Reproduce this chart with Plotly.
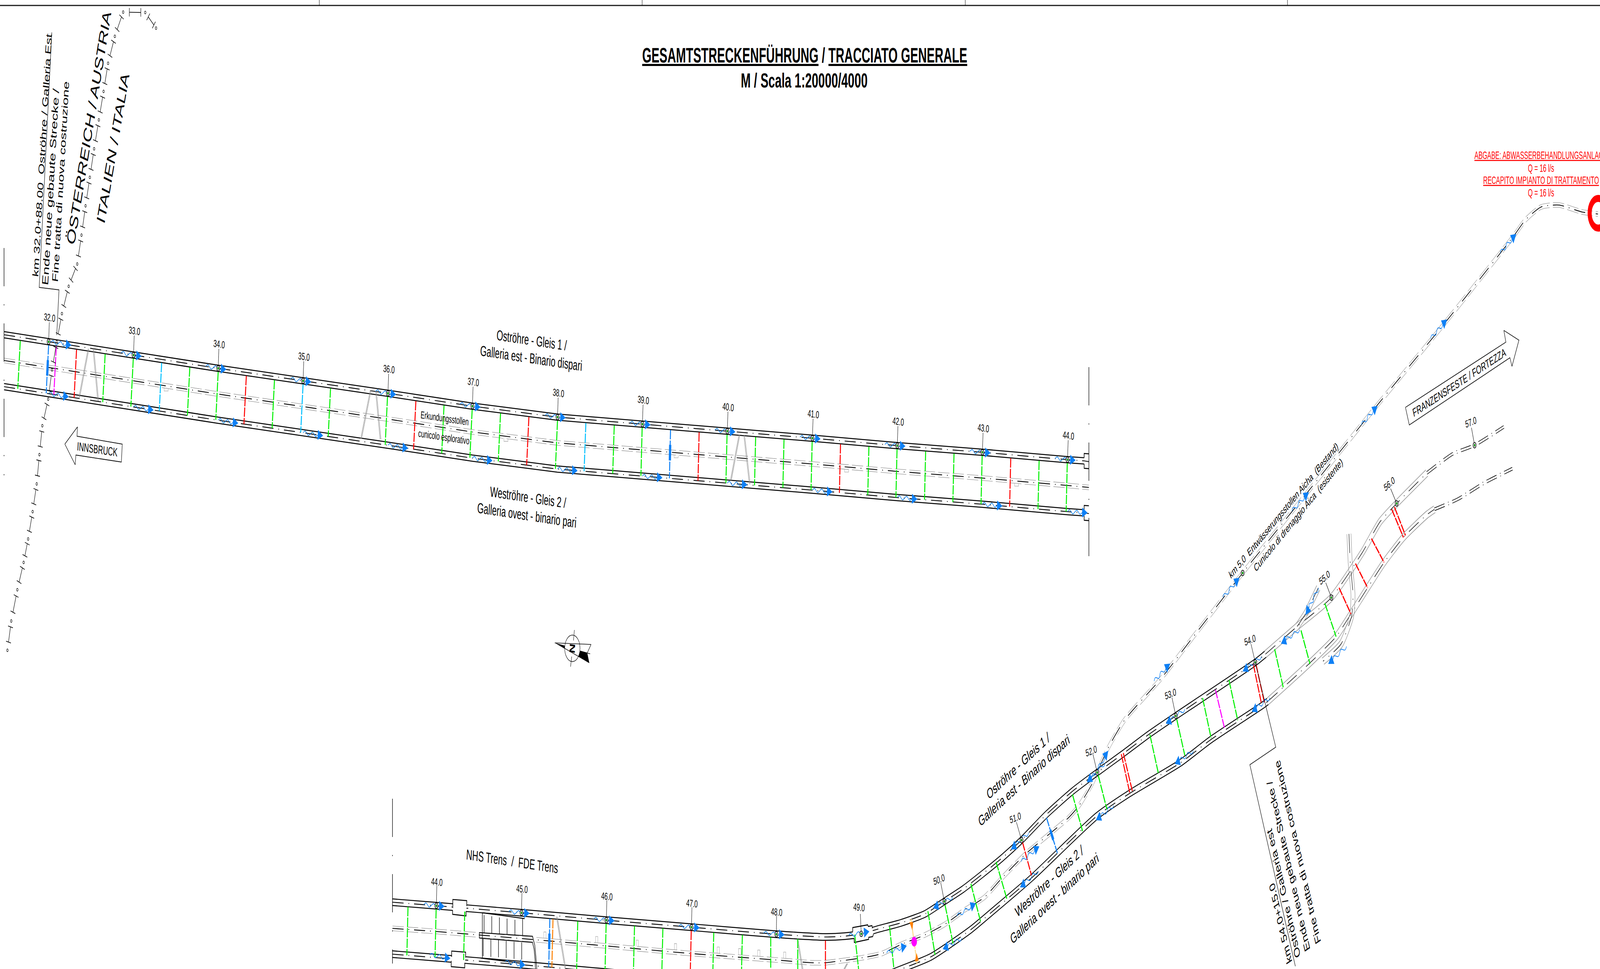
import numpy as np
import plotly.graph_objects as go

W, H = 7106, 2481
BLUE = "#0F80F5"; GREEN = "#00F000"; RED = "#FF0000"; CYAN = "#00BFFF"; MAG = "#FF00FF"; ORANGE = "#FF8000"; PALE = "#FFD98C"
GREY = "#A8A8A8"
FONT = "Liberation Sans"

# ---------- kilometre markers ----------
KM_UP = [32, 33, 34, 35, 36, 37, 38, 39, 40, 41, 42, 43, 44]
KM_UP_X = [216, 593, 969, 1346, 1723, 2098, 2476, 2853, 3230, 3608, 3985, 4363, 4741]
KM_UP_Y = [875, 909, 943, 975, 1007, 1040, 1068, 1086, 1104, 1122, 1141, 1158, 1177]
KM_LOW = [44, 45, 46, 47, 48, 49, 50, 51, 52, 53, 54, 55, 56, 57]
KM_LOW_X = [1938, 2316, 2693, 3071, 3448, 3825, 4194, 4537, 4873, 5222, 5575, 5913, 6203, 6549]
KM_LOW_Y = [2319, 2337, 2356, 2374, 2392, 2391, 2308, 2151, 1978, 1833, 1696, 1530, 1289, 1140]
KM_LOW_LABEL_X = [1940, 2318, 2695, 3073, 3449, 3815, 4170, 4509, 4846, 5198, 5551, 5882, 6170, 6532]
KM_LOW_LABEL_Y = [2258, 2276, 2295, 2313, 2335, 2323, 2252, 2094, 1923, 1777, 1639, 1479, 1239, 1081]
KM_LOW_LEAD_X = [1940, 2318, 2695, 3073, 3449, 3821, 4178, 4514, 4854, 5205, 5556, 5888, 6176, 6535]
KM_LOW_LEAD_Y = [2268, 2286, 2305, 2323, 2345, 2340, 2260, 2105, 1931, 1786, 1649, 1492, 1251, 1095]
KM_LOW_ANGLE = [4, 4, 4, 4, 4, 4, -14, -14, -14, -14, -14, -28, -28, -14]

# ---------- upper strip alignment ----------
UP_X = [18] + KM_UP_X + [4815]
UP_Y = [857] + KM_UP_Y + [1180]
UP_GAP_B = 133
UP_GAP_C = 66

# ---------- lower strip alignment ----------
A_X = [1743, 1938, 2316, 2693, 3071, 3448, 3663, 3750, 3825, 3904, 4001, 4108, 4194, 4276, 4363, 4450, 4537, 4648, 4763, 4873, 4985, 5103, 5222, 5575, 5620]
A_Y = [2310, 2319, 2337, 2356, 2374, 2392, 2399, 2397, 2391, 2378, 2363, 2340, 2308, 2277, 2238, 2197, 2151, 2085, 2026, 1978, 1931, 1880, 1833, 1696, 1675]
A2_X = [5620, 5761, 5913, 6049, 6129, 6203, 6337]
A2_Y = [1675, 1604, 1530, 1416, 1336, 1289, 1211]
A3_X = [6337, 6452, 6549, 6679]
A3_Y = [1211, 1162, 1140, 1093]
B_X = [1743, 1938, 2316, 2693, 3071, 3448, 3800, 3900, 3965, 4134, 4312, 4399, 4583, 4870, 5018, 5243, 5377, 5607, 5630]
B_Y = [2443, 2452, 2470, 2489, 2507, 2525, 2530, 2510, 2490, 2450, 2380, 2338, 2247, 2090, 2031, 1953, 1894, 1806, 1796]
B2_X = [5630, 5813, 5934, 6000, 6074, 6147, 6233, 6337, 6371]
B2_Y = [1796, 1700, 1630, 1572, 1505, 1440, 1376, 1318, 1304]
B3_X = [6371, 6475, 6590, 6717]
B3_Y = [1304, 1278, 1237, 1200]
C_X = [1743, 1938, 2316, 2693, 3040, 3448, 3605, 3663, 3763, 3822, 3914, 4006, 4103, 4195, 4284, 4373, 4450, 4554, 4745, 4793, 4851, 4918, 4994, 5157, 5300, 5519, 5795, 6106, 6417, 6723, 6775, 6844, 6924, 7028, 7097]
C_Y = [2377, 2385, 2403, 2422, 2440, 2458, 2465, 2465, 2458, 2453, 2442, 2417, 2395, 2367, 2330, 2297, 2248, 2187, 2094, 2062, 2006, 1919, 1844, 1737, 1630, 1467, 1269, 1045, 827, 604, 563, 530, 525, 543, 548]
BR1_X = [5761, 5800, 5830, 5855]
BR1_Y = [1604, 1570, 1535, 1505]
BR2_X = [5991, 5997, 6009, 6003, 5957, 5876]
BR2_Y = [1367, 1443, 1523, 1577, 1648, 1693]

# ---------- cross passages, upper strip ----------
CP_UP_X = [90, 216, 250, 340, 467, 592, 718, 843, 969, 1094, 1219, 1346, 1468, 1721, 1847, 1972, 2097, 2223, 2349, 2476, 2602, 2728, 2852, 2978, 3105, 3229, 3356, 3482, 3607, 3733, 3859, 3984, 4111, 4237, 4362, 4489, 4615, 4740]
CP_UP_C = [GREEN, BLUE, MAG, RED, GREEN, GREEN, CYAN, GREEN, GREEN, RED, GREEN, CYAN, GREEN, GREEN, RED, GREEN, GREEN, GREEN, RED, GREEN, CYAN, GREEN, GREEN, BLUE, RED, GREEN, GREEN, GREEN, GREEN, RED, GREEN, GREEN, GREEN, GREEN, GREEN, RED, GREEN, GREEN]
# ---------- cross passages, lower strip (straight part) ----------
CP_LOW_X = [1812, 1937, 2064, 2442, 2456, 2566, 2692, 2818, 2944, 3070, 3170, 3297, 3423, 3543, 3666]
CP_LOW_C = [GREEN, GREEN, GREEN, BLUE, ORANGE, GREEN, GREEN, GREEN, GREEN, RED, GREEN, GREEN, GREEN, GREEN, RED]
# ---------- cross passages, lower strip (curved part) ----------
CP_X0 = [3796, 3951, 4046, 4121, 4197, 4312, 4424, 4541, 4648, 4763, 4877, 4980, 4989, 5107, 5226, 5341, 5398, 5458, 5566, 5578, 5661, 5778, 5884, 5947, 6020, 6091, 6181, 6193]
CP_Y0 = [2393, 2373, 2353, 2333, 2317, 2263, 2207, 2156, 2094, 2034, 1984, 1931, 1928, 1881, 1841, 1787, 1766, 1741, 1700, 1700, 1662, 1614, 1545, 1505, 1443, 1379, 1304, 1298]
CP_X1 = [3815, 3970, 4073, 4153, 4233, 4356, 4472, 4581, 4696, 4808, 4916, 5018, 5030, 5145, 5262, 5379, 5439, 5497, 5602, 5616, 5700, 5818, 5934, 6000, 6074, 6147, 6233, 6242]
CP_Y1 = [2490, 2480, 2468, 2445, 2416, 2362, 2302, 2241, 2184, 2128, 2072, 2031, 2028, 1981, 1934, 1890, 1866, 1844, 1800, 1800, 1762, 1700, 1630, 1572, 1505, 1440, 1376, 1371]
CP_COL = [GREEN, GREEN, PALE, GREEN, GREEN, GREEN, GREEN, RED, BLUE, GREEN, GREEN, RED, RED, GREEN, GREEN, GREEN, MAG, GREEN, RED, RED, GREEN, GREEN, GREEN, RED, RED, RED, RED, RED]

# ---------- flow arrows ----------
AR_X0 = [1909, 2244, 4272, 4611, 4946, 5300, 5640, 4231, 4568, 4908, 5262, 5602, 5772, 5855, 5980, 3938, 4250, 4535, 4846, 5126, 5432, 5738, 6047, 6354, 6663]
AR_Y0 = [2445, 2463, 2402, 2230, 2062, 1922, 1786, 2297, 2132, 1953, 1816, 1681, 1612, 1505, 1655, 2440, 2346, 2206, 2000, 1744, 1530, 1309, 1088, 867, 648]
AR_X1 = [2000, 2333, 4187, 4530, 4867, 5217, 5559, 4144, 4490, 4827, 5178, 5519, 5689, 5798, 5899, 4027, 4334, 4616, 4922, 5197, 5505, 5813, 6118, 6427, 6734]
AR_Y1 = [2454, 2471, 2430, 2272, 2100, 1956, 1822, 2325, 2175, 2003, 1853, 1719, 1648, 1575, 1700, 2422, 2313, 2167, 1922, 1699, 1479, 1260, 1039, 818, 599]
WAVE = [0, -.7, -1, -.5, .4, 1, .7, 0, -.7, -1, -.5, .4, 1, .7, 0]

# ---------- notches on exploratory gallery ----------
NOTCH_UP_X = [738, 2247, 3003, 3760, 4515]
NOTCH_LOW_X = [2420, 2650, 2830, 3000, 3190, 3285, 3370, 3485]

# ---------- vertical match lines ----------
MATCH_X = [18, 4836, 1743]
MATCH_Y0 = [635, 940, 2045]
MATCH_Y1 = [1217, 1447, 2467]

# ---------- hatch legs ----------
LEG_X0 = [393, 415, 1646, 1670, 3284, 3305, 2473, 3543, 3763]
LEG_Y0 = [893, 893, 1000, 1002, 1113, 1113, 2347, 2407, 2467]
LEG_X1 = [352, 436, 1604, 1690, 3246, 3330, 2511, 3564, 3750]
LEG_Y1 = [1018, 1027, 1123, 1125, 1230, 1240, 2480, 2481, 2481]

# ---------- ladder ----------
LAD_X = [2150, 2184, 2218, 2252, 2287, 2321]
LAD_Y0 = [2343, 2346, 2349, 2352, 2355, 2350]
LAD_Y1 = [2388, 2390, 2392, 2393, 2394, 2395]
LAD_Y2 = [2403, 2405, 2407, 2409, 2411, 2413]
LAD_Y3 = [2448, 2450, 2451, 2453, 2455, 2457]

# ---------- country border ----------
BORDER_X = [693, 645, 547, 510, 480, 460, 439, 418, 399, 380, 362, 343, 305, 275, 252, 231, 214, 188, 175, 163, 145, 125, 105, 77, 50, 33]
BORDER_Y = [72, 32, 31, 93, 162, 234, 307, 381, 454, 527, 602, 676, 733, 803, 875, 947, 1022, 1090, 1164, 1239, 1310, 1380, 1440, 1510, 1590, 1665]

# ---------- sheet frame ----------
FRAME_TICK_X = [1418, 2852, 4287, 5718]

# ---------- call-out outlines ----------
CALL32_X = [230, 174, 262, 252]
CALL32_Y = [83, 736, 742, 858]
CALL54_X = [5575, 5666, 5551, 5753]
CALL54_Y = [1696, 1913, 1958, 2474]
INN_X = [288, 344, 342, 543, 539, 337, 334, 288]
INN_Y = [1137, 1093, 1117, 1137, 1183, 1165, 1190, 1137]
FRA_X = [6242, 6688, 6679, 6746, 6715, 6706, 6259, 6242]
FRA_Y = [1043, 876, 846, 871, 938, 916, 1088, 1043]

fig = go.Figure()


def line(x, y, color="#000", width=2.0, dash=None, spline=False):
    fig.add_trace(go.Scatter(x=x, y=y, mode="lines", hoverinfo="skip", showlegend=False,
                             line=dict(color=color, width=width, dash=dash,
                                       shape="spline" if spline else "linear", smoothing=0.6)))


def poly(x, y, fill, outline=None, width=0):
    fig.add_trace(go.Scatter(x=x, y=y, mode="lines", fill="toself", fillcolor=fill, hoverinfo="skip",
                             showlegend=False, line=dict(color=outline or fill, width=width)))


def off(xs, ys, d):
    xs = np.asarray(xs, float); ys = np.asarray(ys, float)
    dx = np.gradient(xs); dy = np.gradient(ys)
    n = np.hypot(dx, dy)
    return xs - dy / n * d, ys + dx / n * d


def join(segments):
    xs, ys = [], []
    for sx, sy in segments:
        xs += list(sx) + [None]
        ys += list(sy) + [None]
    return xs, ys


CENTRE = "49px,22px,3px,22px"
GDASH = "50px,14px"

up_y = lambda x: np.interp(x, UP_X, UP_Y)

# exploratory gallery, upper strip
xc = np.array(UP_X[:-1] + [4836.0]); yc = np.array(UP_Y[:-1] + [1182.0]) + UP_GAP_C
for d in (-6, 6):
    line(xc, yc + d, GREY, 1.6, GDASH)
line(xc, yc, "#000", 2.2, CENTRE)
# exploratory gallery, lower strip and drainage tunnel
for d in (-6, 6):
    ox, oy = off(C_X, C_Y, d)
    line(ox, oy, GREY, 1.6, GDASH, True)
line(C_X, C_Y, "#000", 2.2, CENTRE, True)

# upper strip tubes
for gap in (0, UP_GAP_B):
    for d in (-8, 8):
        line(UP_X, np.array(UP_Y) + gap + d, "#000", 2.6)
    line(UP_X + [4836], list(np.array(UP_Y) + gap) + [1182 + gap], "#000", 2.2, CENTRE)
    fx = [4815, 4815, 4836]
    yend = 1180 + gap
    line(fx, [yend - 8, yend - 19, yend - 18], "#000", 2.6)
    line(fx, [yend + 8, yend + 19, yend + 20], "#000", 2.6)

# lower strip tubes
for px, py in ((A_X, A_Y), (B_X, B_Y)):
    for d in (-8.5, 8.5):
        ox, oy = off(px, py, d)
        line(ox, oy, "#000", 2.4, None, True)
    line(px, py, "#000", 2.2, CENTRE, True)
for px, py in ((A2_X, A2_Y), (B2_X, B2_Y), (BR1_X, BR1_Y), (BR2_X, BR2_Y)):
    for d in (-9, 9):
        ox, oy = off(px, py, d)
        line(ox, oy, "#9A9A9A", 2.0, None, True)
    line(px, py, "#000", 1.8, CENTRE, True)
for px, py in ((A3_X, A3_Y), (B3_X, B3_Y)):
    for d in (-3.5, 3.5):
        ox, oy = off(px, py, d)
        line(ox, oy, "#000", 1.6, "46px,16px,3px,16px", True)

# enlargements on the tubes
ENL_X = [2011, 2011, 2073, 2073, 2070, 2070, 2010, 2010]
ENL_Y = [2325, 2303, 2306, 2320, 2333, 2345, 2341, 2330]
ENL2_X = [2006, 2006, 2068, 2068, 2064, 2064, 2004, 2004]
ENL2_Y = [2450, 2435, 2438, 2452, 2465, 2478, 2475, 2460]
ENL3_X = [3787, 3787, 3854, 3856, 3873, 3874, 3879, 3876, 3858, 3858, 3794, 3793]
ENL3_Y = [2385, 2375, 2368, 2372, 2370, 2377, 2392, 2398, 2400, 2405, 2413, 2402]
for ex, ey in ((ENL_X, ENL_Y), (ENL2_X, ENL2_Y), (ENL3_X, ENL3_Y)):
    poly(ex, ey, "#FFFFFF")
    h = len(ex) // 2
    line(ex[:h], ey[:h], "#000", 2.6)
    line(ex[h:], ey[h:], "#000", 2.6)

# ladder chamber
lad_x, lad_y = join([([x, x], [a, b]) for x, a, b in zip(LAD_X, LAD_Y0, LAD_Y1)] +
                    [([x - 4, x - 4], [a, b]) for x, a, b in zip(LAD_X, LAD_Y2, LAD_Y3)])
line(lad_x, lad_y, "#000", 2.2)
line([2142, 2330], [2337, 2352], "#000", 2.4)
line([2135, 2325], [2453, 2467], "#000", 2.4)
line([2129, 2129, 2365, 2375, 2380, 2384], [2402, 2388, 2397, 2420, 2450, 2481], "#000", 2.2)
line([2129, 2365, 2372, 2376, 2378], [2402, 2413, 2430, 2455, 2481], "#000", 2.2)
line([2142, 2142], [2337, 2453], "#000", 2.2)

# notches
nx, ny = [], []
for x in NOTCH_UP_X:
    y = up_y(x) + UP_GAP_C + 6
    nx += [x - 9, x - 9, x + 9, x + 9, None]
    ny += [y, y + 7, y + 7, y + 1, None]
for x in NOTCH_LOW_X:
    y = np.interp(x, C_X, C_Y) - 6
    nx += [x - 5, x - 5, x + 5, x + 5, None]
    ny += [y, y - 16, y - 16, y, None]
line(nx, ny, GREY, 1.4)

# hatch legs
leg_segments = []
for a, b, c, d in zip(LEG_X0, LEG_Y0, LEG_X1, LEG_Y1):
    for s in (-2.5, 0, 2.5):
        leg_segments.append(([a + s, c + s], [b, d]))
lx, ly = join(leg_segments)
line(lx, ly, "#8C8C8C", 1.2)

# cross passages
def passage(x0, y0, x1, y1, c):
    line([x0, x1], [y0, y1], c, 4.4, "24px,3px")

for x, c in zip(CP_UP_X, CP_UP_C):
    tilt = float(np.interp(x, [90, 2400, 2900, 4800], [-11, -10, -5, -5]))
    y0 = float(up_y(x)) + 9
    y1 = float(up_y(x + tilt)) + UP_GAP_B
    passage(x, y0, x + tilt, y1, c)
    if c == BLUE:
        line([x + tilt * .3, x + tilt * .6], [y0 + 38, y0 + 78], BLUE, 10)
for x, c in zip(CP_LOW_X, CP_LOW_C):
    tilt = -5 if x < 3300 else 0
    y0 = float(np.interp(x, A_X, A_Y)) + 9
    y1 = float(np.interp(x, A_X, A_Y)) + UP_GAP_B
    passage(x, y0, x + tilt, y1, c)
    if c == BLUE:
        line([x - 2, x - 3], [y0 + 38, y0 + 78], BLUE, 10)
for a, b, c, d, col in zip(CP_X0, CP_Y0, CP_X1, CP_Y1, CP_COL):
    passage(a, b, c, d, col)
    if col == BLUE:
        line([a + .35 * (c - a), a + .62 * (c - a)], [b + .35 * (d - b), b + .62 * (d - b)], BLUE, 10)

# nozzle with valve
poly([4039, 4056, 4052], [2361, 2361, 2382], ORANGE)
poly([4063, 4080, 4071], [2462, 2460, 2440], ORANGE)
fig.add_trace(go.Scatter(x=[4060], y=[2411], mode="markers", hoverinfo="skip", showlegend=False,
                         marker=dict(color=MAG, size=25, line=dict(width=0))))

# country border
bx, by = [], []
for i in range(len(BORDER_X) - 1):
    p = np.array([BORDER_X[i], BORDER_Y[i]], float)
    q = np.array([BORDER_X[i + 1], BORDER_Y[i + 1]], float)
    d = q - p
    u = d / np.hypot(*d)
    n = np.array([-u[1], u[0]])
    a = p + .2 * d; b = p + .72 * d
    bx += [a[0], b[0], None, b[0] + n[0] * 11, b[0] - n[0] * 11, None, a[0] + n[0] * 11, a[0] - n[0] * 11, None]
    by += [a[1], b[1], None, b[1] + n[1] * 11, b[1] - n[1] * 11, None, a[1] + n[1] * 11, a[1] - n[1] * 11, None]
line(bx, by, "#000", 1.8)
fig.add_trace(go.Scatter(x=BORDER_X, y=BORDER_Y, mode="markers", hoverinfo="skip", showlegend=False,
                         marker=dict(symbol="circle-open", size=7, color="#000", line=dict(width=1.6, color="#000"))))

# frame
line([0, W], [14, 14], "#1A1A1A", 3)
tx, ty = join([([x, x], [0, 14]) for x in FRAME_TICK_X])
line(tx, ty, "#000", 1.6)

# match lines
mx, my = join([([x, x], [a, b]) for x, a, b in zip(MATCH_X, MATCH_Y0, MATCH_Y1)])
line(mx, my, "#000", 2.2, "98px,46px,3px,46px")

# flow arrows
sx, sy, ox, oy = [], [], [], []
start = []; tip = []
for i, x in enumerate(KM_UP_X):
    if i == 0:
        start.append((226, up_y(226))); tip.append((317, up_y(317)))
    else:
        start.append((x - 55, up_y(x - 55))); tip.append((x + 36, up_y(x + 36)))
    start.append((x, up_y(x) + UP_GAP_B)); tip.append((x + 89, up_y(x + 89) + UP_GAP_B))
for x in KM_LOW_X[:6]:
    start.append((x - 56, np.interp(x - 56, A_X, A_Y))); tip.append((x + 36, np.interp(x + 36, A_X, A_Y)))
for a, b, c, d in zip(AR_X0, AR_Y0, AR_X1, AR_Y1):
    start.append((a, b)); tip.append((c, d))
for s, t in zip(start, tip):
    s = np.array(s, float); t = np.array(t, float)
    v = t - s
    L = np.hypot(*v)
    u = v / L
    n = np.array([-u[1], u[0]])
    base = t - u * 24
    tri = [base + n * 13, t, base - n * 13]
    sx += [p[0] for p in tri] + [tri[0][0], None]
    sy += [p[1] for p in tri] + [tri[0][1], None]
    for k, w in enumerate(WAVE):
        f = k / (len(WAVE) - 1)
        pt = s + (base - s) * f + n * w * 5
        ox.append(pt[0]); oy.append(pt[1])
    ox.append(None); oy.append(None)
fig.add_trace(go.Scatter(x=ox, y=oy, mode="lines", hoverinfo="skip", showlegend=False,
                         line=dict(color=BLUE, width=2, shape="spline")))
poly(sx, sy, BLUE)

# km leaders and marks
lead = []
for x, y in zip(KM_UP_X, KM_UP_Y):
    lead.append(([x + 3, x], [y - 50, y]))
for x, y, a, b in zip(KM_LOW_X, KM_LOW_Y, KM_LOW_LEAD_X, KM_LOW_LEAD_Y):
    lead.append(([a, x], [b, y]))
lx, ly = join(lead)
line(lx, ly, "#000", 1.6)
mark_x = KM_UP_X + KM_LOW_X + [5519]
mark_y = KM_UP_Y + KM_LOW_Y + [1467]
fig.add_trace(go.Scatter(x=mark_x, y=mark_y, mode="markers", hoverinfo="skip", showlegend=False,
                         marker=dict(symbol="circle", size=14, color="#FFF", line=dict(width=2, color="#000"))))
fig.add_trace(go.Scatter(x=mark_x, y=mark_y, mode="markers", hoverinfo="skip", showlegend=False,
                         marker=dict(symbol="circle", size=6, color=GREEN, line=dict(width=1.2, color="#000"))))

# outlet ring
RING_X = [7098]; RING_Y = [546]
fig.add_trace(go.Scatter(x=RING_X, y=RING_Y, mode="markers", hoverinfo="skip", showlegend=False,
                         marker=dict(symbol="circle-open", size=76, color=RED, line=dict(width=18, color=RED))))

# call-outs and direction arrows
line(CALL32_X, CALL32_Y, "#000", 1.8)
line(CALL54_X, CALL54_Y, "#000", 1.8)
line(INN_X, INN_Y, "#000", 1.8)
line(FRA_X, FRA_Y, "#000", 1.8)

# compass
C0X, C0Y = 2542, 1660
fig.add_trace(go.Scatter(x=[C0X], y=[C0Y], mode="markers", hoverinfo="skip", showlegend=False,
                         marker=dict(symbol="circle-open", size=68, color="#000", line=dict(width=1.6, color="#000"))))
line([2464, 2625, 2608, 2621], [1646, 1650, 1672, 1674], "#000", 1.6)
line([2508, 2617], [1660, 1697], "#000", 1.6)
line([2551, 2547], [1613, 1640], "#000", 1.6)
line([2539, 2534], [1681, 1707], "#000", 1.6)
poly([2464, 2508, 2508], [1646, 1653, 1661], "#000")
poly([2577, 2608, 2617, 2569], [1666, 1671, 1697, 1681], "#000")

# ---------- texts ----------
TXT = [
    ("km 32.0+88.00  Oströhre / Galleria Est", 187, 398, -84.4, 36.6, "#000"),
    ("Ende neue gebaute Strecke /", 224, 479, -84.4, 39, "#000"),
    ("Fine tratta di nuova costruzione", 269, 465, -84.4, 37, "#000"),
    ("ÖSTERREICH / AUSTRIA", 394, 327, -74.6, 53, "#000"),
    ("ITALIEN / ITALIA", 501, 379, -73.8, 53, "#000"),
    ("INNSBRUCK", 432, 1150, 5, 30.6, "#000"),
    ("Oströhre - Gleis 1 /", 2361, 871, 5, 37, "#000"),
    ("Galleria est - Binario dispari", 2359, 917, 5, 37, "#000"),
    ("Weströhre - Gleis 2 /", 2345, 1273, 5, 37, "#000"),
    ("Galleria ovest - binario pari", 2340, 1319, 5, 37, "#000"),
    ("Erkundungsstollen", 1975, 1071, 5, 26, "#000"),
    ("cunicolo esplorativo", 1971, 1119, 5, 26, "#000"),
    ("NHS Trens  /  FDE Trens", 2274, 2205, 5, 37, "#000"),
    ("Oströhre - Gleis 1 /", 4521, 1961, -29, 37, "#000"),
    ("Galleria est - Binario dispari", 4547, 1998, -28.4, 37, "#000"),
    ("Weströhre - Gleis 2 /", 4659, 2256, -29, 37, "#000"),
    ("Galleria ovest - binario pari", 4683, 2300, -29, 37, "#000"),
    ("km 54.0+15.0", 5687, 2365, -111.4, 36, "#000"),
    ("Oströhre / Galleria est", 5700, 2288, -111.4, 36, "#000"),
    ("Ende neue gebaute Strecke /", 5722, 2218, -111.4, 36, "#000"),
    ("Fine tratta di nuova costruzione", 5763, 2182, -111.4, 36, "#000"),
    ("km 5,0  Entwässerungsstollen Aicha  (Bestand)", 5700, 1307, -35, 28, "#000"),
    ("Cunicolo di drenaggio Aica  (esistente)", 5766, 1318, -35.6, 28, "#000"),
    ("FRANZENSFESTE / FORTEZZA", 6480, 979, -21, 30, "#000"),
    ("<u>ABGABE: ABWASSERBEHANDLUNGSANLAGE</u>", 6844, 398, 0, 27, RED),
    ("Q = 16 l/s", 6844, 431, 0, 27, RED),
    ("<u>RECAPITO IMPIANTO DI TRATTAMENTO</u>", 6844, 462, 0, 27, RED),
    ("Q = 16 l/s", 6844, 494, 0, 27, RED),
    ("<b><u>GESAMTSTRECKENFÜHRUNG</u> / <u>TRACCIATO GENERALE</u></b>", 3574, 141, 0, 53, "#000"),
    ("<b>M / Scala 1:20000/4000</b>", 3571, 205, 0, 52.5, "#000"),
    ("<b>N</b>", 2542, 1660, 95, 34, "#000"),
]
ann = []
for t, x, y, a, s, c in TXT:
    ann.append(dict(text=t, x=x, y=y, textangle=a, font=dict(family=FONT, size=s, color=c)))
for k, x, y in zip(KM_UP, KM_UP_X, KM_UP_Y):
    ann.append(dict(text=f"{k}.0", x=x + 4, y=y - 62, textangle=5, font=dict(family=FONT, size=26, color="#000")))
for k, x, y, a in zip(KM_LOW, KM_LOW_LABEL_X, KM_LOW_LABEL_Y, KM_LOW_ANGLE):
    ann.append(dict(text=f"{k}.0", x=x, y=y, textangle=a, font=dict(family=FONT, size=26, color="#000")))
for a in ann:
    a.update(xref="x", yref="y", showarrow=False, xanchor="center", yanchor="middle", align="center")

fig.update_layout(margin=dict(l=0, r=0, t=0, b=0, pad=0), width=W, height=H, autosize=False,
                  paper_bgcolor="#FFFFFF", plot_bgcolor="#FFFFFF", showlegend=False, annotations=ann,
                  xaxis=dict(range=[0, W], visible=False, fixedrange=True),
                  yaxis=dict(range=[H, 0], visible=False, fixedrange=True))
# the browser window may be narrower than the sheet: map the whole sheet onto the window
POST = """
document.body.style.margin='0';
document.documentElement.style.overflow='hidden';
var g=document.querySelector('.plotly-graph-div');
g.style.transformOrigin='0 0';
g.style.transform='scale('+(window.innerWidth/7106)+','+(window.innerHeight/2481)+')';
"""
fig.write_html("out.html", config={"displayModeBar": False, "responsive": False}, post_script=POST)
